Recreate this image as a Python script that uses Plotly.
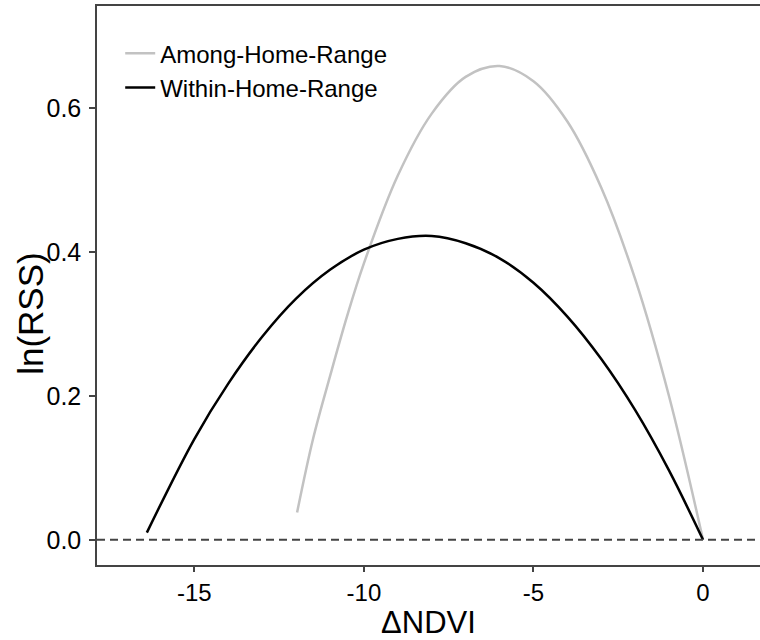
import plotly.graph_objects as go

# Data
within_x = [-16.4, -15, -14, -13, -12, -11, -10, -9, -8, -7, -6, -5, -4, -3, -2, -1, 0]
within_y = [0.010, 0.140, 0.217, 0.282, 0.335, 0.375, 0.403, 0.418, 0.422, 0.412, 0.391, 0.357, 0.310, 0.251, 0.180, 0.096, 0.0]

among_x = [-11.97, -11.5, -11, -10.5, -10, -9, -8, -7, -6, -5, -4, -3, -2, -1, 0]
among_y = [0.038, 0.140, 0.227, 0.310, 0.384, 0.506, 0.592, 0.643, 0.658, 0.637, 0.581, 0.489, 0.362, 0.199, 0.0]

x_ticks = [-15, -10, -5, 0]
y_ticks = [0.0, 0.2, 0.4, 0.6]

FONT = "Liberation Sans, Arial, sans-serif"

fig = go.Figure()
fig.add_trace(go.Scatter(x=among_x, y=among_y, mode="lines", name="Among-Home-Range",
                         line=dict(color="#c2c2c2", width=2.5, shape="spline")))
fig.add_trace(go.Scatter(x=within_x, y=within_y, mode="lines", name="Within-Home-Range",
                         line=dict(color="#000000", width=2.5, shape="spline")))

fig.add_hline(y=0, line=dict(color="#444444", width=2, dash="8px,5px"))

fig.update_layout(
    width=760, height=640,
    margin=dict(l=97, r=0, t=6, b=75),
    paper_bgcolor="white", plot_bgcolor="white",
    font=dict(family=FONT, color="#000000"),
    showlegend=True,
    legend=dict(x=0.035, y=0.955, xanchor="left", yanchor="top",
                font=dict(size=24, family=FONT), bgcolor="rgba(0,0,0,0)",
                tracegroupgap=0, itemwidth=30),
)

fig.update_xaxes(range=[-17.87, 1.68], tickvals=x_ticks, ticktext=[str(v) for v in x_ticks],
                 showgrid=False, zeroline=False, showline=True, linecolor="#444444", linewidth=1.5,
                 mirror=True, ticks="outside", ticklen=5, tickcolor="#444444", tickwidth=1.5,
                 tickfont=dict(size=24, family=FONT),
                 title=dict(text="ΔNDVI", font=dict(size=31, family=FONT), standoff=10))
fig.update_yaxes(range=[-0.035, 0.7415], tickvals=y_ticks, ticktext=["%.1f" % v for v in y_ticks],
                 showgrid=False, zeroline=False, showline=True, linecolor="#444444", linewidth=1.5,
                 ticks="outside", ticklen=6, tickcolor="#444444", tickwidth=1.5,
                 tickfont=dict(size=25, family=FONT), ticklabelstandoff=3)

fig.add_annotation(text="ln(RSS)", xref="paper", yref="paper", x=-0.1005, y=0.45,
                   xanchor="center", yanchor="middle", textangle=-90, showarrow=False,
                   font=dict(size=35, family=FONT, color="#000000"))

fig.write_html("out.html")
